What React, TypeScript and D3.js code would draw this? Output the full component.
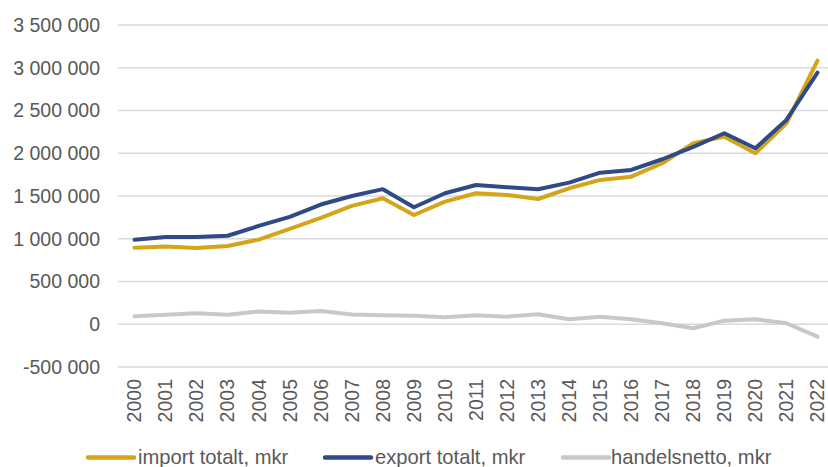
import React from "react";
import * as d3 from "d3";

const years = [
  "2000", "2001", "2002", "2003", "2004", "2005", "2006", "2007", "2008", "2009", "2010", "2011",
  "2012", "2013", "2014", "2015", "2016", "2017", "2018", "2019", "2020", "2021", "2022",
];

const importTotal = [
  896000, 910000, 892000, 916000, 990000, 1115000, 1243000, 1384000, 1474000, 1278000, 1434000, 1532000,
  1512000, 1465000, 1590000, 1688000, 1726000, 1883000, 2117000, 2194000, 2000000, 2351000, 3083000,
];

const exportTotal = [
  988000, 1020000, 1020000, 1035000, 1150000, 1255000, 1400000, 1500000, 1580000, 1368000, 1532000, 1629000,
  1602000, 1579000, 1656000, 1773000, 1805000, 1930000, 2075000, 2234000, 2058000, 2390000, 2943000,
];

const handelsnetto = [
  94000, 110000, 128000, 112000, 150000, 135000, 155000, 115000, 105000, 100000, 82000, 105000,
  89000, 117000, 58000, 89000, 58000, 12000, -47000, 42000, 58000, 12000, -145000,
];

const yTicks = [-500000, 0, 500000, 1000000, 1500000, 2000000, 2500000, 3000000, 3500000];

const seriesNames = ["import totalt, mkr", "export totalt, mkr", "handelsnetto, mkr"];
const seriesColors = ["#D4A419", "#2F4A86", "#C8C8C8"];

const W = 828;
const H = 467;
const FONT = "'Liberation Sans', Arial, sans-serif";

export default function App() {
  const x = d3.scaleBand<string>().domain(years).range([119, 833]).paddingInner(0).paddingOuter(0);
  const y = d3.scaleLinear().domain([-500000, 3500000]).range([367, 25]);
  const gridX0 = 118;
  const gridX1 = 828;

  // Swedish-style grouping with spaces and a plain hyphen for negatives
  const fmt = (v: number) =>
    (v < 0 ? "-" : "") + d3.format(",")(Math.abs(v)).replace(/,/g, "\u00a0");

  const line = d3
    .line<number>()
    .x((_, i) => (x(years[i]) as number) + x.bandwidth() / 2)
    .y((v) => y(v));

  const allSeries = [importTotal, exportTotal, handelsnetto];
  const drawOrder = [2, 0, 1];

  const legendItems = [
    { lx: 88, tx: 138 },
    { lx: 325, tx: 375 },
    { lx: 563, tx: 611 },
  ];

  return (
    <svg
      width={W}
      height={H}
      style={{ position: "absolute", left: 0, top: 0, background: "#fff" }}
      fontFamily={FONT}
    >
      <rect x={0} y={0} width={W} height={H} fill="#fff" />
      {yTicks.map((t) => (
        <g key={t}>
          <line x1={gridX0} x2={gridX1} y1={y(t)} y2={y(t)} stroke="#D9D9D9" strokeWidth={1.5} />
          <text
            x={100}
            y={y(t)}
            dy="0.35em"
            textAnchor="end"
            fontSize={19.5}
            fill="#595959"
          >
            {fmt(t)}
          </text>
        </g>
      ))}
      {years.map((yr) => {
        const cx = (x(yr) as number) + x.bandwidth() / 2;
        return (
          <text
            key={yr}
            transform={`translate(${cx},379) rotate(-90)`}
            dy="0.35em"
            textAnchor="end"
            fontSize={19.5}
            fill="#595959"
          >
            {yr}
          </text>
        );
      })}
      {drawOrder.map((si) => (
        <path
          key={si}
          d={line(allSeries[si]) || ""}
          fill="none"
          stroke={seriesColors[si]}
          strokeWidth={4}
          strokeLinejoin="round"
          strokeLinecap="round"
        />
      ))}
      {seriesNames.map((name, i) => (
        <g key={name}>
          <line
            x1={legendItems[i].lx}
            x2={legendItems[i].lx + 46}
            y1={457.5}
            y2={457.5}
            stroke={seriesColors[i]}
            strokeWidth={4.5}
            strokeLinecap="round"
          />
          <text x={legendItems[i].tx} y={464} fontSize={20.2} fill="#595959">
            {name}
          </text>
        </g>
      ))}
    </svg>
  );
}
